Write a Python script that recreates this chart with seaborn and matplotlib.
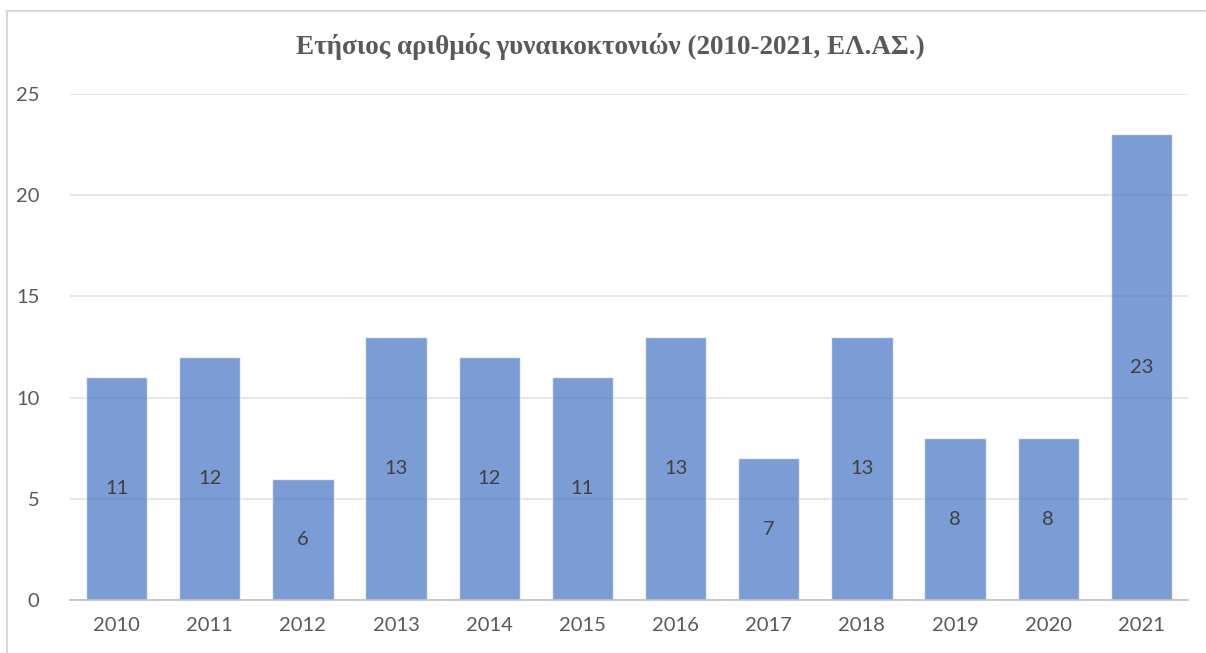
import matplotlib
matplotlib.use('Agg')
import matplotlib.pyplot as plt
import seaborn as sns
import pandas as pd
from matplotlib.lines import Line2D

years = ['2010', '2011', '2012', '2013', '2014', '2015',
         '2016', '2017', '2018', '2019', '2020', '2021']
femicides = [11, 12, 6, 13, 12, 11, 13, 7, 13, 8, 8, 23]
title = 'Ετήσιος αριθμός γυναικοκτονιών (2010-2021, ΕΛ.ΑΣ.)'

df = pd.DataFrame({'year': years, 'count': femicides})

sns.set_style('white')
plt.rcParams['font.family'] = ['Lato', 'DejaVu Sans']

fig = plt.figure(figsize=(12.06, 6.53), dpi=100)
ax = fig.add_axes([70 / 1206, 1 - 600 / 653, 1118 / 1206, 506 / 653])

sns.barplot(x='year', y='count', data=df, color='#4472C4', alpha=0.7,
            width=0.66, saturation=1, ax=ax, zorder=3)

# labels in the middle of each bar
for p, v in zip(ax.patches, femicides):
    ax.text(p.get_x() + p.get_width() / 2, v / 2, str(v), ha='center',
            va='center', fontsize=14.5, color='#404040', zorder=4)

ax.set_ylim(0, 25)
ax.set_yticks([0, 5, 10, 15, 20, 25])
ax.set_xlim(-0.5, len(years) - 0.5)
ax.set_xlabel('')
ax.set_ylabel('')
ax.yaxis.grid(True, color='#E3E3E3', linewidth=1.2, zorder=0)
ax.set_axisbelow(True)
for s in ['top', 'right', 'left']:
    ax.spines[s].set_visible(False)
ax.spines['bottom'].set_color('#BFBFBF')
ax.spines['bottom'].set_linewidth(1.2)
ax.spines['bottom'].set_zorder(5)
ax.tick_params(axis='both', length=0, labelsize=14.5, labelcolor='#595959')
ax.tick_params(axis='y', pad=22)
ax.tick_params(axis='x', pad=12)

fig.text(610 / 1206, 1 - 47 / 653, title, ha='center', va='center',
         fontsize=19.5, fontweight='bold', color='#595959',
         family=['Liberation Serif', 'DejaVu Serif'])

# chart frame (partly cut off on the right and bottom)
x0, y0 = 7 / 1206, 1 - 11 / 653
fig.add_artist(Line2D([x0, 1.0], [y0, y0], color='#D9D9D9', lw=1.5))
fig.add_artist(Line2D([x0, x0], [0, y0], color='#D9D9D9', lw=1.5))

fig.savefig('out.png', dpi=100)
